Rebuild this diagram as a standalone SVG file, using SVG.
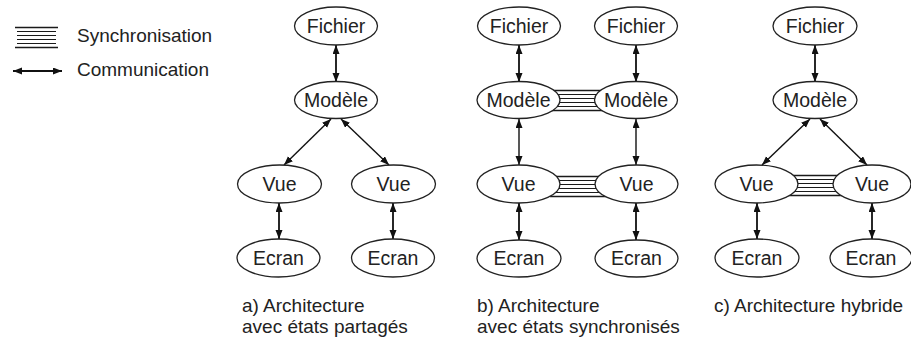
<svg xmlns="http://www.w3.org/2000/svg" width="911" height="338" viewBox="0 0 911 338">
<style>
text{font-family:"Liberation Sans",Arial,sans-serif;font-size:19px;fill:#222}
.n ellipse{fill:#fff;stroke:#222;stroke-width:1.3}
.n text{text-anchor:middle;font-size:19.5px}
.c line{stroke:#111;stroke-width:1.4}
.c line.v{stroke-width:1.8}
</style>
<defs>
<marker id="ah" markerUnits="userSpaceOnUse" markerWidth="10" markerHeight="8" refX="9" refY="3.5" orient="auto-start-reverse"><path d="M0,0 L9,3.5 L0,7 z" fill="#111"/></marker>
<g id="sync" stroke="#1a1a1a" stroke-width="1.1"><line x1="0" y1="0" x2="56" y2="0" stroke-width="1.6"/><line x1="0" y1="4" x2="56" y2="4"/><line x1="0" y1="8" x2="56" y2="8"/><line x1="0" y1="12" x2="56" y2="12"/><line x1="0" y1="16" x2="56" y2="16"/><line x1="0" y1="20" x2="56" y2="20" stroke-width="1.6"/></g>
</defs>
<rect width="911" height="338" fill="#fff"/>
<g id="legend">
<g stroke="#1a1a1a" stroke-width="1.1"><line x1="15" y1="27.5" x2="58" y2="27.5" stroke-width="1.6"/><line x1="17" y1="31.5" x2="56" y2="31.5"/><line x1="17" y1="35.5" x2="56" y2="35.5"/><line x1="17" y1="39.5" x2="56" y2="39.5"/><line x1="17" y1="43.5" x2="56" y2="43.5"/><line x1="15" y1="47.5" x2="58" y2="47.5" stroke-width="1.6"/></g>
<text x="77" y="42">Synchronisation</text>
<g class="c"><line class="v" x1="13" y1="71" x2="62" y2="71" marker-start="url(#ah)" marker-end="url(#ah)"/></g>
<text x="77" y="76">Communication</text>
</g>
<g id="connectors" class="c">
<line class="v" x1="336" y1="45" x2="336" y2="82" marker-start="url(#ah)" marker-end="url(#ah)"/>
<line x1="331" y1="119" x2="284" y2="165" marker-start="url(#ah)" marker-end="url(#ah)"/>
<line x1="341" y1="119" x2="389" y2="165" marker-start="url(#ah)" marker-end="url(#ah)"/>
<line class="v" x1="279" y1="203" x2="279" y2="239" marker-start="url(#ah)" marker-end="url(#ah)"/>
<line class="v" x1="393" y1="203" x2="393" y2="239" marker-start="url(#ah)" marker-end="url(#ah)"/>
<line class="v" x1="519" y1="45" x2="519" y2="82" marker-start="url(#ah)" marker-end="url(#ah)"/>
<line class="v" x1="636" y1="45" x2="636" y2="82" marker-start="url(#ah)" marker-end="url(#ah)"/>
<line x1="519" y1="119" x2="519" y2="165" marker-start="url(#ah)" marker-end="url(#ah)"/>
<line x1="636" y1="119" x2="636" y2="165" marker-start="url(#ah)" marker-end="url(#ah)"/>
<line class="v" x1="519" y1="203" x2="519" y2="240" marker-start="url(#ah)" marker-end="url(#ah)"/>
<line class="v" x1="636" y1="203" x2="636" y2="240" marker-start="url(#ah)" marker-end="url(#ah)"/>
<line class="v" x1="815" y1="45" x2="815" y2="82" marker-start="url(#ah)" marker-end="url(#ah)"/>
<line x1="810" y1="119" x2="762" y2="165" marker-start="url(#ah)" marker-end="url(#ah)"/>
<line x1="820" y1="119" x2="867" y2="165" marker-start="url(#ah)" marker-end="url(#ah)"/>
<line class="v" x1="757" y1="203" x2="757" y2="239" marker-start="url(#ah)" marker-end="url(#ah)"/>
<line class="v" x1="872" y1="203" x2="872" y2="239" marker-start="url(#ah)" marker-end="url(#ah)"/>
<use href="#sync" x="550" y="90.5"/>
<use href="#sync" x="550" y="176.5"/>
<use href="#sync" x="788" y="175.5"/>
</g>
<g id="a-fichier" class="n"><ellipse cx="336" cy="26" rx="41.5" ry="19"/><text x="336" y="33">Fichier</text></g>
<g id="a-modele" class="n"><ellipse cx="336" cy="100" rx="41.5" ry="18.5"/><text x="336" y="107">Modèle</text></g>
<g id="a-vue1" class="n"><ellipse cx="279.5" cy="184" rx="42" ry="19"/><text x="279.5" y="191">Vue</text></g>
<g id="a-vue2" class="n"><ellipse cx="393.5" cy="184" rx="42" ry="19"/><text x="393.5" y="191">Vue</text></g>
<g id="a-ecran1" class="n"><ellipse cx="278.5" cy="258" rx="41.5" ry="19"/><text x="278.5" y="265">Ecran</text></g>
<g id="a-ecran2" class="n"><ellipse cx="393" cy="258" rx="41.5" ry="19"/><text x="393" y="265">Ecran</text></g>
<g id="b-fichier1" class="n"><ellipse cx="519" cy="26" rx="41.5" ry="19"/><text x="519" y="33">Fichier</text></g>
<g id="b-fichier2" class="n"><ellipse cx="636" cy="26" rx="41.5" ry="19"/><text x="636" y="33">Fichier</text></g>
<g id="b-modele1" class="n"><ellipse cx="518.5" cy="100" rx="41.5" ry="18.5"/><text x="518.5" y="107">Modèle</text></g>
<g id="b-modele2" class="n"><ellipse cx="636" cy="100" rx="41.5" ry="18.5"/><text x="636" y="107">Modèle</text></g>
<g id="b-vue1" class="n"><ellipse cx="518.5" cy="184" rx="41.5" ry="19"/><text x="518.5" y="191">Vue</text></g>
<g id="b-vue2" class="n"><ellipse cx="636.5" cy="184" rx="41.5" ry="19"/><text x="636.5" y="191">Vue</text></g>
<g id="b-ecran1" class="n"><ellipse cx="519" cy="258.5" rx="42" ry="18.5"/><text x="519" y="265">Ecran</text></g>
<g id="b-ecran2" class="n"><ellipse cx="636.5" cy="258.5" rx="41.5" ry="18.5"/><text x="636.5" y="265">Ecran</text></g>
<g id="c-fichier" class="n"><ellipse cx="815" cy="26" rx="42" ry="19"/><text x="815" y="33">Fichier</text></g>
<g id="c-modele" class="n"><ellipse cx="815" cy="100" rx="42" ry="18.5"/><text x="815" y="107">Modèle</text></g>
<g id="c-vue1" class="n"><ellipse cx="756.5" cy="184" rx="41.5" ry="19"/><text x="756.5" y="191">Vue</text></g>
<g id="c-vue2" class="n"><ellipse cx="872" cy="184" rx="39" ry="19"/><text x="872" y="191">Vue</text></g>
<g id="c-ecran1" class="n"><ellipse cx="757" cy="258" rx="42" ry="19"/><text x="757" y="265">Ecran</text></g>
<g id="c-ecran2" class="n"><ellipse cx="871" cy="258" rx="41" ry="19"/><text x="871" y="265">Ecran</text></g>
<g id="captions">
<text x="242" y="312">a) Architecture</text>
<text x="242" y="333">avec états partagés</text>
<text x="477" y="312">b) Architecture</text>
<text x="477" y="333">avec états synchronisés</text>
<text x="714" y="312">c) Architecture hybride</text>
</g>
</svg>
